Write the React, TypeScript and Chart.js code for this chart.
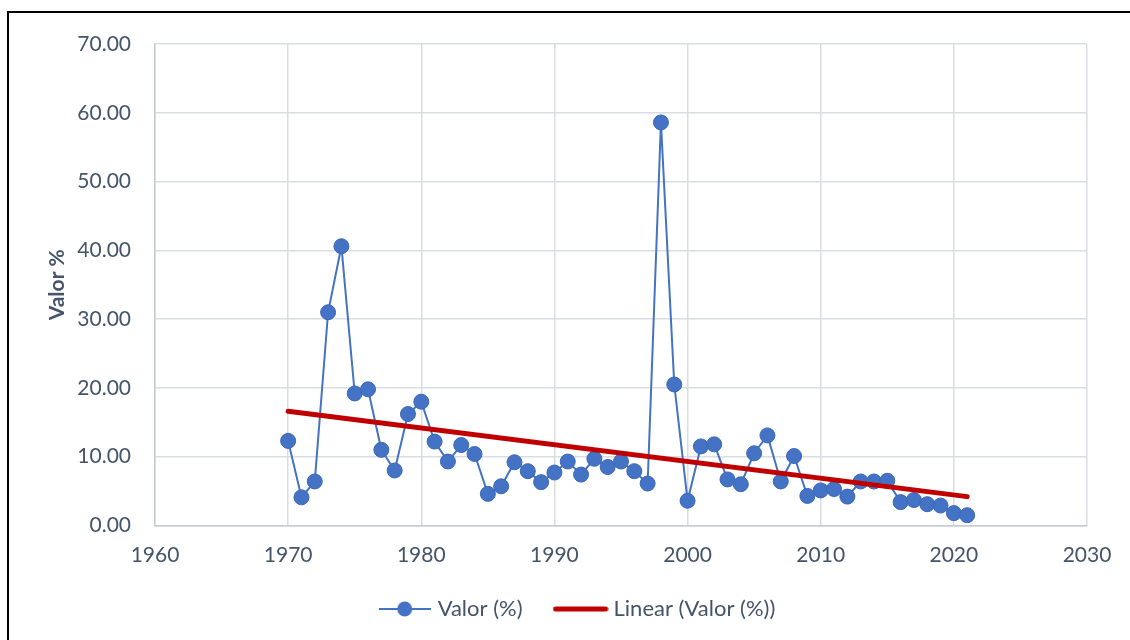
import React, { useEffect, useRef } from "react";
import { Chart, registerables } from "chart.js";

Chart.register(...registerables);

const years = [
  1970, 1971, 1972, 1973, 1974, 1975, 1976, 1977, 1978, 1979,
  1980, 1981, 1982, 1983, 1984, 1985, 1986, 1987, 1988, 1989,
  1990, 1991, 1992, 1993, 1994, 1995, 1996, 1997, 1998, 1999,
  2000, 2001, 2002, 2003, 2004, 2005, 2006, 2007, 2008, 2009,
  2010, 2011, 2012, 2013, 2014, 2015, 2016, 2017, 2018, 2019,
  2020, 2021,
];
const values = [
  12.3, 4.1, 6.4, 31.0, 40.6, 19.2, 19.8, 11.0, 8.0, 16.2,
  18.0, 12.2, 9.3, 11.7, 10.4, 4.6, 5.7, 9.2, 7.9, 6.3,
  7.7, 9.3, 7.4, 9.7, 8.5, 9.3, 7.9, 6.1, 58.6, 20.5,
  3.6, 11.5, 11.8, 6.7, 6.0, 10.5, 13.1, 6.4, 10.1, 4.3,
  5.1, 5.3, 4.2, 6.4, 6.4, 6.5, 3.4, 3.7, 3.1, 2.9,
  1.8, 1.5,
];
const trendYears = [1970, 2021];
const trendValues = [16.6, 4.2];

const seriesLabel = "Valor (%)";
const trendLabel = "Linear (Valor (%))";
const yTitle = "Valor %";
const xMin = 1960;
const xMax = 2030;
const xStep = 10;
const yMin = 0;
const yMax = 70;
const yStep = 10;

const FONT = "Lato, 'Open Sans', sans-serif";
const TEXT = "#44546A";
const BLUE = "#4472C4";
const RED = "#C00000";
const GRID = "#D9DDE3";

function makeSeriesIcon() {
  const c = document.createElement("canvas");
  c.width = 52;
  c.height = 18;
  const g = c.getContext("2d")!;
  g.strokeStyle = BLUE;
  g.lineWidth = 2;
  g.beginPath();
  g.moveTo(0, 9);
  g.lineTo(52, 9);
  g.stroke();
  g.fillStyle = BLUE;
  g.beginPath();
  g.arc(26, 9, 7.5, 0, Math.PI * 2);
  g.fill();
  return c;
}

function makeTrendIcon() {
  const c = document.createElement("canvas");
  c.width = 56;
  c.height = 8;
  const g = c.getContext("2d")!;
  g.strokeStyle = RED;
  g.lineWidth = 5;
  g.lineCap = "round";
  g.beginPath();
  g.moveTo(3, 4);
  g.lineTo(53, 4);
  g.stroke();
  return c;
}

export default function App() {
  const ref = useRef<HTMLCanvasElement | null>(null);

  useEffect(() => {
    if (!ref.current) return;
    const seriesIcon = makeSeriesIcon();
    const trendIcon = makeTrendIcon();
    const chart = new Chart(ref.current, {
      type: "line",
      data: {
        datasets: [
          {
            label: seriesLabel,
            data: years.map((y, i) => ({ x: y, y: values[i] })),
            borderColor: BLUE,
            borderWidth: 2,
            backgroundColor: BLUE,
            pointRadius: 7.5,
            pointBackgroundColor: BLUE,
            pointBorderColor: "#3B68B8",
            pointBorderWidth: 1,
            order: 1,
          },
          {
            label: trendLabel,
            data: trendYears.map((y, i) => ({ x: y, y: trendValues[i] })),
            borderColor: RED,
            borderWidth: 5,
            borderCapStyle: "round",
            pointRadius: 0,
            order: 0,
          },
        ],
      },
      options: {
        animation: false,
        responsive: false,
        events: [],
        layout: { padding: { left: 71, right: 43, top: 44, bottom: 10 } },
        scales: {
          x: {
            type: "linear",
            min: xMin,
            max: xMax,
            ticks: {
              stepSize: xStep,
              color: TEXT,
              font: { family: FONT, size: 21 },
              padding: 17,
              callback: (v: any) => String(v),
            },
            grid: { color: GRID, lineWidth: 1.5, drawTicks: false },
            border: { color: "#C5CBD3", width: 1.5 },
            afterFit: (s: any) => {
              s.height = 36.5;
              s.paddingLeft = 0;
              s.paddingRight = 0;
            },
          },
          y: {
            min: yMin,
            max: yMax,
            ticks: {
              stepSize: yStep,
              color: TEXT,
              font: { family: FONT, size: 21 },
              padding: 24,
              callback: (v: any) => Number(v).toFixed(2),
            },
            grid: { color: GRID, lineWidth: 1.5, drawTicks: false },
            border: { color: "#C5CBD3", width: 1.5 },
            title: {
              display: true,
              text: yTitle,
              color: TEXT,
              font: { family: FONT, size: 21, weight: "bold" },
              padding: { top: -26.6, bottom: 0 },
            },
            afterFit: (s: any) => {
              s.width = 84;
              s.paddingTop = 0;
              s.paddingBottom = 0;
            },
          },
        },
        plugins: {
          tooltip: { enabled: false },
          legend: {
            position: "bottom",
            labels: {
              usePointStyle: true,
              pointStyleWidth: 44,
              padding: 36,
              color: TEXT,
              font: { family: FONT, size: 22 },
              generateLabels: () => [
                {
                  text: seriesLabel,
                  pointStyle: seriesIcon,
                  fontColor: TEXT,
                  datasetIndex: 0,
                  lineWidth: 0,
                  strokeStyle: "transparent",
                  fillStyle: BLUE,
                  hidden: false,
                },
                {
                  text: trendLabel,
                  pointStyle: trendIcon,
                  fontColor: TEXT,
                  datasetIndex: 1,
                  lineWidth: 0,
                  strokeStyle: "transparent",
                  fillStyle: RED,
                  hidden: false,
                },
              ],
            },
          },
        },
      } as any,
    });
    return () => chart.destroy();
  }, []);

  return (
    <div
      style={{
        position: "fixed",
        left: 0,
        top: 0,
        width: 1130,
        height: 640,
        overflow: "hidden",
        background: "#fff",
      }}
    >
      <div
        style={{
          position: "absolute",
          left: 7,
          top: 11,
          width: 1200,
          height: 700,
          borderLeft: "2px solid #000",
          borderTop: "2px solid #000",
        }}
      />
      <canvas
        ref={ref}
        width={1130}
        height={640}
        style={{ position: "absolute", left: 0, top: 0, width: 1130, height: 640 }}
      />
    </div>
  );
}
